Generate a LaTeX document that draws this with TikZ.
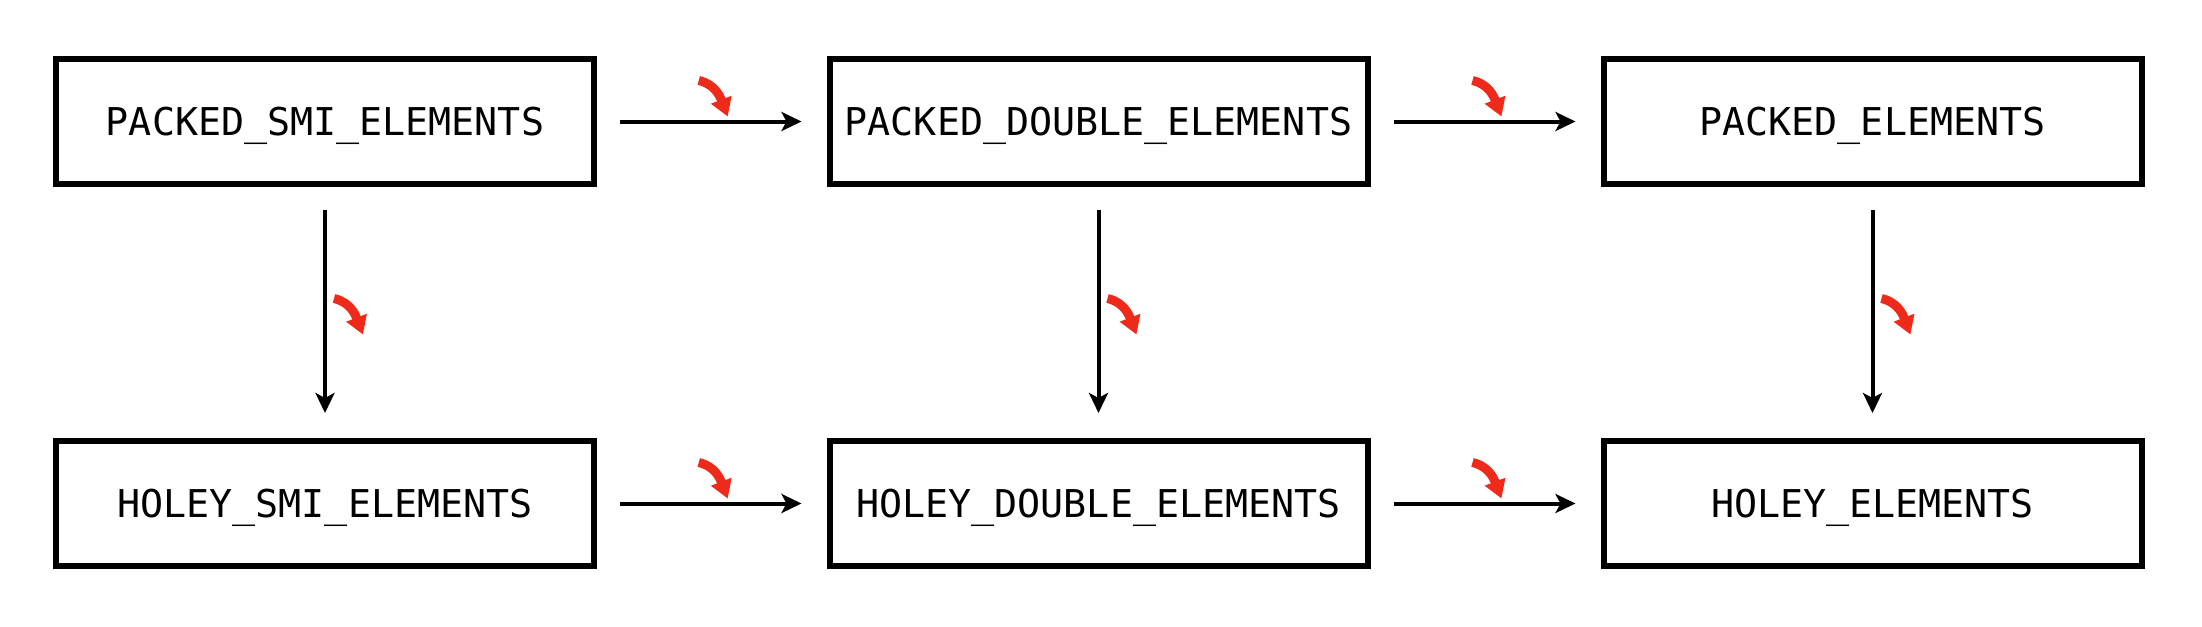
\documentclass[tikz,border=0pt]{standalone}
\usepackage{fontspec}
\setmonofont{DejaVu Sans Mono}
\usetikzlibrary{arrows.meta,calc}
\definecolor{turnred}{RGB}{238,42,27}

\tikzset{
  kindbox/.style={draw, line width=0.06cm, minimum width=5.38cm, minimum height=1.25cm,
    inner sep=0pt, text height=0.28cm, text depth=0pt,
    font=\ttfamily\fontsize{10.9}{13}\selectfont},
  flow/.style={line width=0.04cm, -{Stealth[length=0.2cm,width=0.19cm,inset=0.05cm]},
    shorten <=0.23cm, shorten >=0.25cm},
  transition/.pic={
    \draw[turnred, line width=0.09cm, -{Triangle[length=0.18cm,width=0.21cm]}]
      (0,0) arc[start angle=78, end angle=21, radius=0.31cm] -- ++(-69:0.18cm);
  }
}

\begin{document}
\begin{tikzpicture}
    \useasboundingbox (0,0) rectangle (22.02,-6.26);
    % packed kinds
    \node[kindbox] (psmi) at (3.25,-1.215) {PACKED\_SMI\_ELEMENTS};
    \node[kindbox] (pdouble) at (10.985,-1.215) {PACKED\_DOUBLE\_ELEMENTS};
    \node[kindbox] (pelem) at (18.725,-1.215) {PACKED\_ELEMENTS};
    % holey kinds
    \node[kindbox] (hsmi) at (3.25,-5.035) {HOLEY\_SMI\_ELEMENTS};
    \node[kindbox] (hdouble) at (10.985,-5.035) {HOLEY\_DOUBLE\_ELEMENTS};
    \node[kindbox] (helem) at (18.725,-5.035) {HOLEY\_ELEMENTS};

    \draw[flow] (psmi) -- (pdouble) coordinate[midway] (t1);
    \draw[flow] (pdouble) -- (pelem) coordinate[midway] (t2);
    \draw[flow] (hsmi) -- (hdouble) coordinate[midway] (t3);
    \draw[flow] (hdouble) -- (helem) coordinate[midway] (t4);
    \draw[flow] (psmi) -- (hsmi) coordinate[midway] (t5);
    \draw[flow] (pdouble) -- (hdouble) coordinate[midway] (t6);
    \draw[flow] (pelem) -- (helem) coordinate[midway] (t7);

    % one-way transitions
    \pic at ($(t1)+(-0.13,0.41)$) {transition};
    \pic at ($(t2)+(-0.13,0.41)$) {transition};
    \pic at ($(t3)+(-0.13,0.41)$) {transition};
    \pic at ($(t4)+(-0.13,0.41)$) {transition};
    \pic at ($(t5)+(0.09,0.14)$) {transition};
    \pic at ($(t6)+(0.09,0.14)$) {transition};
    \pic at ($(t7)+(0.09,0.14)$) {transition};
\end{tikzpicture}
\end{document}
